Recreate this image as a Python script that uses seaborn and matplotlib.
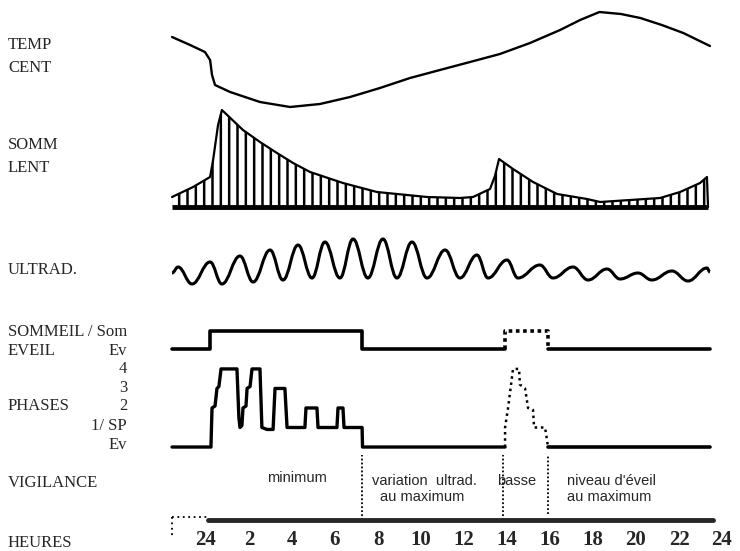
import matplotlib
matplotlib.use("Agg")
import matplotlib.pyplot as plt
from matplotlib.path import Path
from matplotlib.patches import PathPatch
import seaborn as sns
import pandas as pd

# heures depuis minuit (24 = 0)
temp_h = [-1.58, -0.74, -0.05, 0.19, 0.28, 0.42, 1.12, 2.51, 3.91, 5.30, 6.70, 8.09,
          9.49, 10.88, 12.28, 13.67, 15.07, 16.47, 17.4, 18.3, 19.3, 20.2, 21.2, 22.2, 23.44]
temp_c = [36.95, 36.87, 36.80, 36.72, 36.57, 36.47, 36.40, 36.30, 36.25, 36.28, 36.35, 36.44,
          36.54, 36.62, 36.70, 36.78, 36.89, 37.02, 37.12, 37.20, 37.18, 37.14, 37.07, 36.99, 36.86]

lent_h = [-1.58, -0.60, 0.19, 0.33, 0.56, 0.74, 1.72, 2.51, 3.30, 4.05, 4.84, 6.37, 7.95,
          10.28, 11.81, 12.42, 13.21, 13.44, 13.63, 14.28, 15.21, 16.33, 17.72, 18.33,
          21.12, 22.05, 22.98, 23.30, 23.35]
lent_v = [10, 20, 30, 47, 82, 97, 77, 65, 54, 44, 35, 24, 15,
          10, 9, 10, 18, 31, 48, 38, 25, 13, 8, 5,
          9, 15, 24, 30, 0]

ultrad_h = [-1.58, -1.30, -0.65, 0.19, 0.74, 1.58, 2.19, 2.98, 3.58, 4.28, 4.93, 5.53, 6.23,
            6.84, 7.53, 8.23, 8.88, 9.58, 10.28, 11.12, 11.81, 12.60, 13.12, 14.0, 14.51,
            15.53, 16.14, 17.07, 17.77, 18.65, 19.26, 20.09, 20.74, 21.67, 22.42, 23.3, 23.44]
ultrad_v = [5, 11, -6, 16, -6, 22, -4, 28, -2, 33, 0, 36, 0,
            39, 0, 39, 0, 36, 0, 28, 0, 23, 0, 18, 0,
            13, 0, 11, -2, 9, -1, 5, -2, 7, -3, 10, 6]

# sommeil / eveil (1 = Som, 0 = Ev)
etat_nuit_h = [-1.58, 0.19, 0.19, 7.26, 7.26, 13.91]
etat_nuit_v = [0, 0, 1, 1, 0, 0]
etat_sieste_h = [13.91, 13.91, 15.91, 15.91]
etat_sieste_v = [0, 1, 1, 0]
etat_soir_h = [15.91, 23.44]
etat_soir_v = [0, 0]

# phases (0 = Ev, 1 = 1/SP ... 4)
phase_nuit_h = [-1.58, 0.23, 0.28, 0.42, 0.51, 0.60, 0.70, 1.44, 1.53, 1.58, 1.67, 1.72, 1.86,
                1.91, 2.05, 2.14, 2.51, 2.60, 2.84, 3.12, 3.21, 3.67, 3.77, 4.60, 4.65, 5.16,
                5.21, 6.09, 6.14, 6.37, 6.42, 7.26, 7.28, 13.91]
phase_nuit_v = [0, 0, 2, 2.1, 3, 3.1, 4, 4, 1.5, 1, 1.1, 2, 2.1,
                3, 3.1, 4, 4, 1, 0.9, 0.9, 3, 3, 1, 1, 2, 2,
                1, 1, 2, 2, 1, 1, 0, 0]
phase_sieste_h = [13.91, 13.91, 14.05, 14.28, 14.56, 14.60, 14.84, 14.98, 15.21, 15.26, 15.77, 15.91]
phase_sieste_v = [0, 1, 2, 4, 4, 3.2, 3, 2, 1.9, 1, 1, 0]
phase_soir_h = [15.91, 23.44]
phase_soir_v = [0, 0]

vigil_bornes = [7.26, 13.8, 15.9]
heures_ticks = [0, 2, 4, 6, 8, 10, 12, 14, 16, 18, 20, 22, 24]
heures_labels = ["24", "2", "4", "6", "8", "10", "12", "14", "16", "18", "20", "22", "24"]

sns.set_style("white")
plt.rcParams["font.family"] = ["Liberation Serif", "DejaVu Serif"]
plt.rcParams["hatch.linewidth"] = 1.8

W, H = 740, 551
fig = plt.figure(figsize=(W / 100, H / 100), dpi=100)

X0, PXH = 206, 21.5
XMIN, XMAX = -2.0, 24.8


def band(top, bottom, ylim):
    ax = fig.add_axes([(X0 + XMIN * PXH) / W, 1 - bottom / H,
                       (XMAX - XMIN) * PXH / W, (bottom - top) / H])
    ax.set_xlim(XMIN, XMAX)
    ax.set_ylim(*ylim)
    ax.axis("off")
    return ax


def line(ax, xs, ys, **kw):
    df = pd.DataFrame({"h": xs, "v": ys})
    sns.lineplot(data=df, x="h", y="v", ax=ax, estimator=None, sort=False,
                 color="black", **kw)


# TEMP CENT
ax_t = band(5, 115, (36.17, 37.27))
line(ax_t, temp_h, temp_c, linewidth=1.7)

# SOMM LENT
ax_l = band(100, 212, (-5, 107))
ax_l.fill_between(lent_h, 0, lent_v, facecolor="white", edgecolor="black",
                  hatch="||", linewidth=0)
line(ax_l, lent_h, lent_v, linewidth=1.6)
ax_l.hlines(0, lent_h[0], lent_h[-1], color="black", linewidth=3.5)

# ULTRAD
ax_u = band(228, 295, (-17, 50))
verts = [(ultrad_h[0], ultrad_v[0])]
codes = [Path.MOVETO]
for (x0, y0), (x1, y1) in zip(zip(ultrad_h[:-1], ultrad_v[:-1]), zip(ultrad_h[1:], ultrad_v[1:])):
    d = (x1 - x0) * 0.4
    verts += [(x0 + d, y0), (x1 - d, y1), (x1, y1)]
    codes += [Path.CURVE4] * 3
ax_u.add_patch(PathPatch(Path(verts, codes), fill=False, edgecolor="black", linewidth=2.2))

# SOMMEIL / EVEIL
ax_e = band(320, 358, (-0.5, 1.61))
line(ax_e, etat_nuit_h, etat_nuit_v, linewidth=2.6)
line(ax_e, etat_sieste_h, etat_sieste_v, linewidth=2.6, linestyle=(0, (1, 1)))
line(ax_e, etat_soir_h, etat_soir_v, linewidth=2.6)

# PHASES
ax_p = band(358, 456, (-0.46, 4.56))
line(ax_p, phase_nuit_h, phase_nuit_v, linewidth=2.4)
line(ax_p, phase_sieste_h, phase_sieste_v, linewidth=1.8, linestyle=(0, (1, 1.5)))
line(ax_p, phase_soir_h, phase_soir_v, linewidth=2.6)

# VIGILANCE + HEURES
ax_v = band(455, 520, (0, 1))
ax_v.axis("on")
for s in ["top", "left", "right"]:
    ax_v.spines[s].set_visible(False)
ax_v.spines["bottom"].set_linewidth(3.5)
ax_v.spines["bottom"].set_bounds(0.1, 23.6)
ax_v.spines["bottom"].set_capstyle("round")
ax_v.set_yticks([])
ax_v.set_xticks(heures_ticks, heures_labels)
ax_v.tick_params(axis="x", length=2, width=1, pad=5, labelsize=15)
for t in ax_v.get_xticklabels():
    t.set_fontweight("bold")
for b in vigil_bornes:
    ax_v.vlines(b, 0.1 if b == vigil_bornes[-1] else 0, 1, color="black",
                linewidth=1.3, linestyle=(0, (1, 1.2)))
ax_v.plot([-1.58, 0.05], [0.04, 0.04], color="black", linewidth=1.3,
          linestyle=(0, (1, 2)), clip_on=False)
ax_v.plot([-1.58, -1.58], [0.04, -0.28], color="black", linewidth=1.3,
          linestyle=(0, (1, 2)), clip_on=False)

vkw = dict(fontsize=10.5, family=["Liberation Sans"], va="center")
ax_v.text(4.23, 0.64, "minimum", ha="center", **vkw)
ax_v.text(7.72, 0.60, "variation  ultrad.", ha="left", **vkw)
ax_v.text(8.09, 0.36, "au maximum", ha="left", **vkw)
ax_v.text(14.47, 0.60, "basse", ha="center", **vkw)
ax_v.text(16.79, 0.60, "niveau d'éveil", ha="left", **vkw)
ax_v.text(16.79, 0.36, "au maximum", ha="left", **vkw)

# libellés de gauche
lab = [("TEMP", 45), ("CENT", 68), ("SOMM", 145), ("LENT", 168), ("ULTRAD.", 270),
       ("SOMMEIL / Som", 332), ("EVEIL", 351), ("PHASES", 406), ("VIGILANCE", 483),
       ("HEURES", 543)]
for txt, y in lab:
    fig.text(8 / W, 1 - y / H, txt, fontsize=12, va="center", ha="left")
right = [("Ev", 351), ("4", 369), ("3", 388), ("2", 406), ("1/ SP", 426), ("Ev", 445)]
for txt, y in right:
    fig.text(127 / W, 1 - y / H, txt, fontsize=12, va="center", ha="right")

fig.savefig("out.png", dpi=100)
